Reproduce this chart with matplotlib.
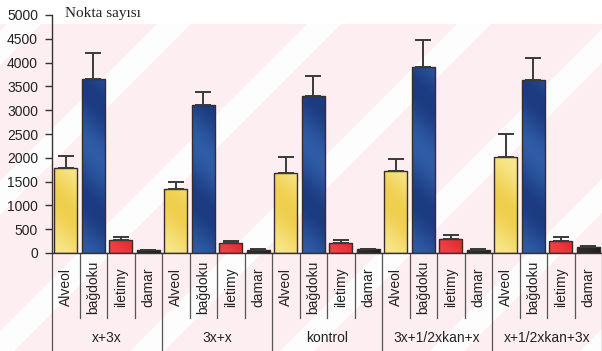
import numpy as np
import matplotlib
matplotlib.use("Agg")
import matplotlib.pyplot as plt
from matplotlib.patches import Rectangle, Polygon
from matplotlib.colors import LinearSegmentedColormap
import matplotlib.transforms as mtransforms

# groups and tissue types
groups = ["x+3x", "3x+x", "kontrol", "3x+1/2xkan+x", "x+1/2xkan+3x"]
tissues = ["Alveol", "bağdoku", "iletimy", "damar"]

# mean point counts per group, one list per tissue
alveol = [1780, 1350, 1690, 1720, 2020]
bagdoku = [3650, 3100, 3300, 3900, 3630]
iletimy = [275, 200, 220, 290, 250]
damar = [60, 60, 80, 60, 120]

# upper error (sd)
alveol_err = [260, 150, 330, 250, 490]
bagdoku_err = [560, 280, 410, 580, 470]
iletimy_err = [70, 60, 60, 85, 80]
damar_err = [10, 15, 10, 15, 20]

yticks = list(range(0, 5001, 500))

values = [alveol, bagdoku, iletimy, damar]
errors = [alveol_err, bagdoku_err, iletimy_err, damar_err]
# (dark, light) shades for each tissue
shades = [("#efcf4e", "#f8e68a"), ("#1c3b80", "#2f5ca6"),
          ("#e3242a", "#ee4146"), ("#1c1c1c", "#2c2c2c")]

W, H = 602, 351
fig = plt.figure(figsize=(W / 100, H / 100), dpi=100)

# faint pink diagonal background
bg = fig.add_axes([0, 0, 1, 1], zorder=0)
bg.set_xlim(0, W)
bg.set_ylim(H, 0)
bg.axis("off")
pink = Rectangle((0, 24), W, H - 24, facecolor="#fdeef1", edgecolor="none")
bg.add_patch(pink)
for x0 in range(-320, W + 40, 150):
    band = Polygon([(x0, H), (x0 + 34, H), (x0 + 34 + 327, 24), (x0 + 327, 24)],
                   closed=True, facecolor="white", edgecolor="none", alpha=0.9)
    bg.add_patch(band)
    band.set_clip_path(pink)

ax = fig.add_axes([52 / W, (H - 253) / H, 550 / W, 238 / H], zorder=1)
ax.patch.set_alpha(0)

n = len(groups) * len(tissues)
ax.set_xlim(0, n)
ax.set_ylim(0, 5000)
px_per_unit = 238 / 5000

for g in range(len(groups)):
    for t in range(len(tissues)):
        x = g * len(tissues) + t + 0.5
        v = values[t][g]
        e = errors[t][g]
        bar = ax.bar(x, v, width=0.84, color=shades[t][0], edgecolor="none",
                     zorder=2)[0]
        # broad diagonal sheen, computed in pixel units
        hpx = max(int(v * px_per_unit), 2)
        rows, cols = np.mgrid[0:hpx, 0:23]
        sheen = 0.5 + 0.5 * np.cos((rows + cols) * 2 * np.pi / 110)
        cmap = LinearSegmentedColormap.from_list("s", [shades[t][0], shades[t][1]])
        im = ax.imshow(sheen, cmap=cmap, extent=(x - 0.42, x + 0.42, 0, v),
                       aspect="auto", origin="lower", zorder=2.1)
        im.set_clip_path(bar)
        ax.add_patch(Rectangle((x - 0.42, 0), 0.84, v, fill=False,
                               edgecolor="#3a2a2a", linewidth=1.0, zorder=2.2))
        ax.errorbar(x, v, yerr=[[0], [e]], fmt="none", ecolor="#3a3a3a",
                    elinewidth=1.4, capsize=5.5, capthick=1.4, zorder=3)

for s in ["top", "right"]:
    ax.spines[s].set_visible(False)
ax.spines["left"].set_color("#333333")
ax.spines["bottom"].set_color("#333333")
ax.spines["left"].set_linewidth(1.0)
ax.spines["bottom"].set_linewidth(1.0)

ax.set_yticks(yticks)
ax.set_yticklabels([str(v) for v in yticks], family="Liberation Sans",
                   fontsize=10, color="#222222")
ax.tick_params(axis="y", length=5, width=1, color="#333333", pad=5)
ax.set_xticks([])

# two-level category axis below the plot
trans = mtransforms.blended_transform_factory(ax.transData, ax.transAxes)
for k in range(n + 1):
    low = -0.412 if k % len(tissues) == 0 else -0.273
    ax.plot([k, k], [0, low], transform=trans, color="#555555",
            linewidth=0.9, clip_on=False)
for g, name in enumerate(groups):
    for t, tname in enumerate(tissues):
        x = g * len(tissues) + t + 0.5
        ax.text(x, -0.143, tname, transform=trans, rotation=90, ha="center",
                va="center", family="Liberation Sans", fontsize=10, color="#222222")
    ax.text(g * len(tissues) + 2, -0.357, name, transform=trans, ha="center",
            va="center", family="Liberation Sans", fontsize=10, color="#222222")

fig.text(65 / W, 1 - 13 / H, "Nokta sayısı", family="Liberation Serif",
         fontsize=11, ha="left", va="center", color="#222222")

fig.savefig("out.png", dpi=100)
